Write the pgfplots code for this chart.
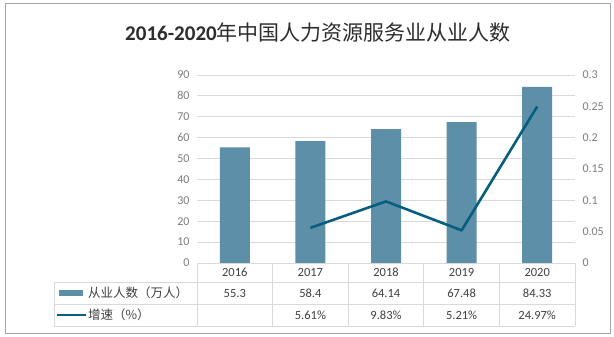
\documentclass[border=0pt]{standalone}
\usepackage{pgfplots}
\pgfplotsset{compat=1.18}
\usepackage{fontspec}
\setmainfont{Carlito}
\newfontfamily\cjk{Noto Sans CJK SC}
\definecolor{barc}{RGB}{93,144,168}
\definecolor{linec}{RGB}{8,94,126}
\definecolor{gridc}{RGB}{217,217,217}
\definecolor{tickc}{RGB}{125,125,125}
\definecolor{txtc}{RGB}{64,64,64}
\definecolor{titlec}{RGB}{45,45,45}
\definecolor{framec}{RGB}{165,165,165}
\begin{document}
\begin{tikzpicture}[x=1pt,y=1pt]
\path[use as bounding box, fill=white] (0,0) rectangle (614,-337);
\draw[framec, line width=1pt] (5,-4) rectangle (610,-333);
\node[font=\fontsize{21}{24}\selectfont, text=titlec] at (318,-33) {\textbf{2016-2020}{\cjk 年中国人力资源服务业从业人数}};
\begin{axis}[at={(197pt,-263pt)}, anchor=south west, scale only axis, width=378pt, height=188pt,
  xmin=-0.5, xmax=4.5, ymin=0, ymax=90,
  ytick={0,10,20,30,40,50,60,70,80,90},
  yticklabels={0,10,20,30,40,50,60,70,80,90},
  xtick=\empty, axis line style={draw=none}, tick style={draw=none},
  ymajorgrids, grid style={gridc, line width=0.8pt},
  yticklabel style={font=\fontsize{12}{14}\selectfont, text=tickc, xshift=-4pt},
  ybar, bar width=30pt, clip=false]
\addplot[fill=barc, draw=none] coordinates {(0,55.3)(1,58.4)(2,64.14)(3,67.48)(4,84.33)};
\end{axis}
\begin{axis}[at={(197pt,-263pt)}, anchor=south west, scale only axis, width=378pt, height=188pt,
  xmin=-0.5, xmax=4.5, ymin=0, ymax=0.3,
  axis y line*=right, axis x line=none,
  ytick={0,0.05,0.1,0.15,0.2,0.25,0.3},
  yticklabels={0,0.05,0.1,0.15,0.2,0.25,0.3},
  axis line style={draw=none}, tick style={draw=none},
  yticklabel style={font=\fontsize{12}{14}\selectfont, text=tickc, xshift=4pt},
  clip=false]
\addplot[linec, line width=2.6pt, line join=round, mark=none] coordinates {(1,0.0561)(2,0.0983)(3,0.0521)(4,0.2497)};
\end{axis}
% data table
\draw[gridc, line width=0.8pt] (197,-263) -- (575,-263);
\foreach \y in {282,304,326} {\draw[gridc, line width=0.8pt] (54,-\y) -- (575,-\y);}
\draw[gridc, line width=0.8pt] (54,-282) -- (54,-326);
\foreach \x in {197,272.6,348.2,423.8,499.4,575} {\draw[gridc, line width=0.8pt] (\x,-263) -- (\x,-326);}
\begin{scope}[every node/.style={font=\fontsize{12.5}{14}\selectfont, text=txtc}]
\foreach \yr [count=\i from 0] in {2016,2017,2018,2019,2020} {\node at (234.8+75.6*\i,-272.5) {\yr};}
\foreach \v [count=\i from 0] in {55.3,58.4,64.14,67.48,84.33} {\node at (234.8+75.6*\i,-293) {\v};}
\foreach \v [count=\i from 1] in {5.61\%,9.83\%,5.21\%,24.97\%} {\node at (234.8+75.6*\i,-315) {\v};}
\fill[barc] (59,-290) rectangle (83,-296);
\node[anchor=west, inner sep=0pt] at (88,-293) {\cjk 从业人数（万人）};
\draw[linec, line width=2.6pt] (57,-315) -- (86,-315);
\node[anchor=west, inner sep=0pt] at (88,-315) {\cjk 增速（\%）};
\end{scope}
\end{tikzpicture}
\end{document}
